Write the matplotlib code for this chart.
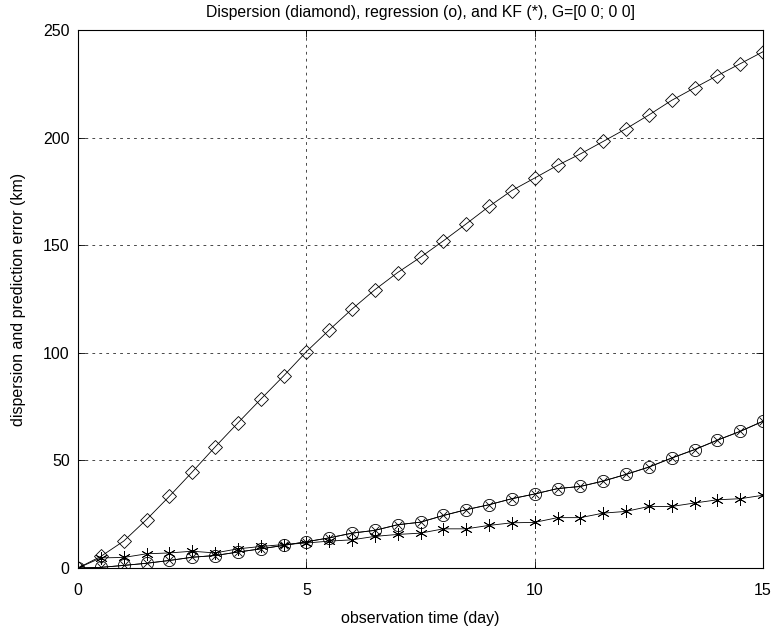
"""Dispersion vs. regression vs. KF prediction error over observation time."""

import matplotlib
matplotlib.use("Agg")
import matplotlib.pyplot as plt

plt.rcParams["font.family"] = ["Liberation Sans", "DejaVu Sans"]
plt.rcParams["font.size"] = 11.5

# observation time (day), sampled every half day
obs_time = [0, 0.5, 1, 1.5, 2, 2.5, 3, 3.5, 4, 4.5, 5, 5.5, 6, 6.5, 7, 7.5,
            8, 8.5, 9, 9.5, 10, 10.5, 11, 11.5, 12, 12.5, 13, 13.5, 14, 14.5, 15]

# error curves (km)
dispersion = [0, 5.4, 12.5, 22.5, 33.3, 44.6, 56.2, 67.4, 78.4, 89.2, 100.5,
              110.6, 120.3, 129.3, 137.3, 144.4, 152.0, 159.9, 168.0, 175.4,
              181.2, 187.1, 192.4, 198.2, 204.1, 210.5, 217.3, 223.1, 228.8,
              234.3, 239.9]
regression = [0, 0.3, 1.2, 2.2, 3.5, 5.0, 5.8, 7.4, 8.9, 10.5, 12.2,
              14.0, 16.2, 17.5, 20.1, 21.3, 24.4, 27.1, 29.4, 32.2,
              34.4, 36.9, 37.9, 40.4, 43.5, 46.9, 51.1, 55.0, 59.4,
              63.5, 68.2]
kalman = [0, 4.7, 4.9, 6.6, 7.0, 7.8, 7.0, 8.9, 10.0, 10.9, 11.6,
          12.5, 13.1, 14.7, 15.6, 16.2, 18.2, 18.2, 19.8, 21.0,
          21.2, 23.4, 23.4, 25.5, 26.3, 28.6, 28.6, 30.2, 31.7,
          32.2, 33.8]

x_ticks = [0, 5, 10, 15]
y_ticks = [0, 50, 100, 150, 200, 250]

TITLE = "Dispersion (diamond), regression (o), and KF (*), G=[0 0; 0 0]"
ASTERISK = (6, 2, 0)

fig = plt.figure(figsize=(7.74, 6.35), dpi=100)
ax = fig.add_axes([0.1008, 0.1055, 0.885, 0.8473])

line_kw = dict(color="black", linewidth=0.6, markerfacecolor="none",
               markeredgecolor="black", markeredgewidth=0.6)

ax.plot(obs_time, dispersion, marker="D", markersize=7.2, **line_kw)
ax.plot(obs_time, regression, marker="o", markersize=8.8, **line_kw)
ax.plot(obs_time, regression, marker="x", markersize=5.8, **line_kw)
ax.plot(obs_time, kalman, marker=ASTERISK, markersize=9, **line_kw)

ax.set_xlim(0, 15)
ax.set_ylim(0, 250)
ax.set_xticks(x_ticks)
ax.set_yticks(y_ticks)

ax.grid(True, color="black", linestyle=(0, (4, 6)), linewidth=0.5)
ax.tick_params(direction="in", length=5, width=0.6, top=True, right=True)
ax.tick_params(axis="x", pad=10.5)
ax.tick_params(axis="y", pad=6)
for spine in ax.spines.values():
    spine.set_linewidth(0.8)

ax.set_title(TITLE, fontsize=11.3, pad=9)
ax.set_xlabel("observation time (day)", labelpad=10)
ax.set_ylabel("dispersion and prediction error (km)", labelpad=12)

fig.savefig("out.png", dpi=100)
